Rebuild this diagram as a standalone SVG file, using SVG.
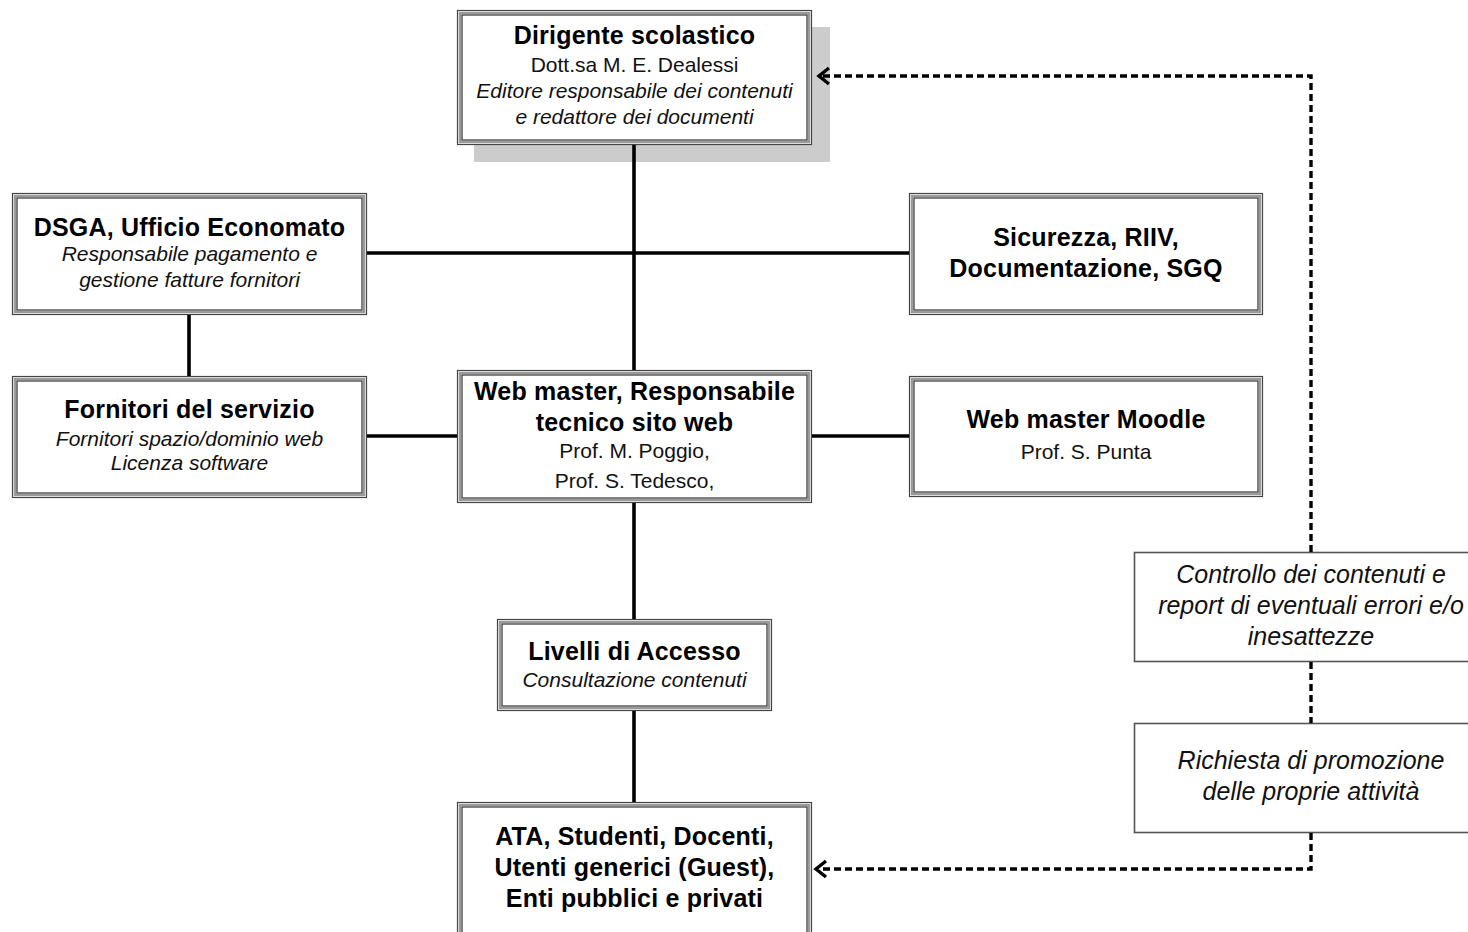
<svg xmlns="http://www.w3.org/2000/svg" width="1468" height="932" viewBox="0 0 1468 932">
<style>
.bo{fill:#fff;stroke:#444;stroke-width:1.2}
.bg{fill:none;stroke:#9a9a9a;stroke-width:2.4}
.bi{fill:none;stroke:#333;stroke-width:1.2}
.sb{fill:#fff;stroke:#555;stroke-width:1.6}
.t{font-family:"Liberation Sans",Arial,sans-serif;font-weight:bold;font-size:25px;letter-spacing:0.2px;fill:#000;text-anchor:middle}
.r{font-family:"Liberation Sans",Arial,sans-serif;font-size:21px;fill:#111;text-anchor:middle}
.it{font-family:"Liberation Sans",Arial,sans-serif;font-style:italic;font-size:21px;fill:#111;text-anchor:middle}
.ib{font-family:"Liberation Sans",Arial,sans-serif;font-style:italic;font-size:25px;fill:#111;text-anchor:middle}
.c{fill:none;stroke:#000;stroke-width:3.6}
.d{fill:none;stroke:#000;stroke-width:3.4;stroke-dasharray:7 4}
.ah{fill:none;stroke:#000;stroke-width:3.4}
</style>
<rect x="0" y="0" width="1468" height="932" fill="#fff"/>
<g id="dirigente">
<rect x="474" y="27" width="356" height="135" fill="#cccccc"/>
<rect class="bo" x="457.5" y="10.5" width="354" height="134"/>
<rect class="bg" x="460" y="13" width="349" height="129"/>
<rect class="bi" x="462" y="15" width="345" height="125"/>
<text class="t" x="634.5" y="44">Dirigente scolastico</text>
<text class="r" x="634.5" y="72">Dott.sa M. E. Dealessi</text>
<text class="it" x="634.5" y="98">Editore responsabile dei contenuti</text>
<text class="it" x="634.5" y="124">e redattore dei documenti</text>
</g>
<g id="dsga">
<rect class="bo" x="12.5" y="193.5" width="354" height="121"/>
<rect class="bg" x="15" y="196" width="349" height="116"/>
<rect class="bi" x="17" y="198" width="345" height="112"/>
<text class="t" x="189.5" y="236">DSGA, Ufficio Economato</text>
<text class="it" x="189.5" y="261">Responsabile pagamento e</text>
<text class="it" x="189.5" y="287">gestione fatture fornitori</text>
</g>
<g id="sicurezza">
<rect class="bo" x="909.5" y="193.5" width="353" height="121"/>
<rect class="bg" x="912" y="196" width="348" height="116"/>
<rect class="bi" x="914" y="198" width="344" height="112"/>
<text class="t" x="1086" y="246">Sicurezza, RIIV,</text>
<text class="t" x="1086" y="277">Documentazione, SGQ</text>
</g>
<g id="fornitori">
<rect class="bo" x="12.5" y="376.5" width="354" height="121"/>
<rect class="bg" x="15" y="379" width="349" height="116"/>
<rect class="bi" x="17" y="381" width="345" height="112"/>
<text class="t" x="189.5" y="418">Fornitori del servizio</text>
<text class="it" x="189.5" y="446">Fornitori spazio/dominio web</text>
<text class="it" x="189.5" y="470">Licenza software</text>
</g>
<g id="webmaster">
<rect class="bo" x="457.5" y="370.5" width="354" height="132"/>
<rect class="bg" x="460" y="373" width="349" height="127"/>
<rect class="bi" x="462" y="375" width="345" height="123"/>
<text class="t" x="634.5" y="400">Web master, Responsabile</text>
<text class="t" x="634.5" y="431">tecnico sito web</text>
<text class="r" x="634.5" y="458">Prof. M. Poggio,</text>
<text class="r" x="634.5" y="488">Prof. S. Tedesco,</text>
</g>
<g id="moodle">
<rect class="bo" x="909.5" y="376.5" width="353" height="120"/>
<rect class="bg" x="912" y="379" width="348" height="115"/>
<rect class="bi" x="914" y="381" width="344" height="111"/>
<text class="t" x="1086" y="428">Web master Moodle</text>
<text class="r" x="1086" y="459">Prof. S. Punta</text>
</g>
<g id="livelli">
<rect class="bo" x="497.5" y="619.5" width="274" height="91"/>
<rect class="bg" x="500" y="622" width="269" height="86"/>
<rect class="bi" x="502" y="624" width="265" height="82"/>
<text class="t" x="634.5" y="660">Livelli di Accesso</text>
<text class="it" x="634.5" y="687">Consultazione contenuti</text>
</g>
<g id="utenti">
<rect class="bo" x="457.5" y="802.5" width="354" height="140"/>
<rect class="bg" x="460" y="805" width="349" height="135"/>
<rect class="bi" x="462" y="807" width="345" height="131"/>
<text class="t" x="634.5" y="845">ATA, Studenti, Docenti,</text>
<text class="t" x="634.5" y="876">Utenti generici (Guest),</text>
<text class="t" x="634.5" y="907">Enti pubblici e privati</text>
</g>
<g id="controllo">
<rect class="sb" x="1134.5" y="552.5" width="345" height="109"/>
<text class="ib" x="1311" y="583">Controllo dei contenuti e</text>
<text class="ib" x="1311" y="614">report di eventuali errori e/o</text>
<text class="ib" x="1311" y="645">inesattezze</text>
</g>
<g id="richiesta">
<rect class="sb" x="1134.5" y="723.5" width="345" height="109"/>
<text class="ib" x="1311" y="769">Richiesta di promozione</text>
<text class="ib" x="1311" y="800">delle proprie attività</text>
</g>
<g id="connectors">
<line class="c" x1="634" y1="145" x2="634" y2="370"/>
<line class="c" x1="367" y1="253" x2="909" y2="253"/>
<line class="c" x1="189" y1="315" x2="189" y2="376"/>
<line class="c" x1="367" y1="436" x2="457" y2="436"/>
<line class="c" x1="812" y1="436" x2="909" y2="436"/>
<line class="c" x1="634" y1="503" x2="634" y2="619"/>
<line class="c" x1="634" y1="711" x2="634" y2="802"/>
<path class="d" d="M1311,552 V76 H822"/>
<path class="ah" d="M829,68 L819,76 L829,84"/>
<line class="d" x1="1311" y1="662" x2="1311" y2="723"/>
<path class="d" d="M1311,833 V869 H819"/>
<path class="ah" d="M826,861 L816,869 L826,877"/>
</g>
</svg>
